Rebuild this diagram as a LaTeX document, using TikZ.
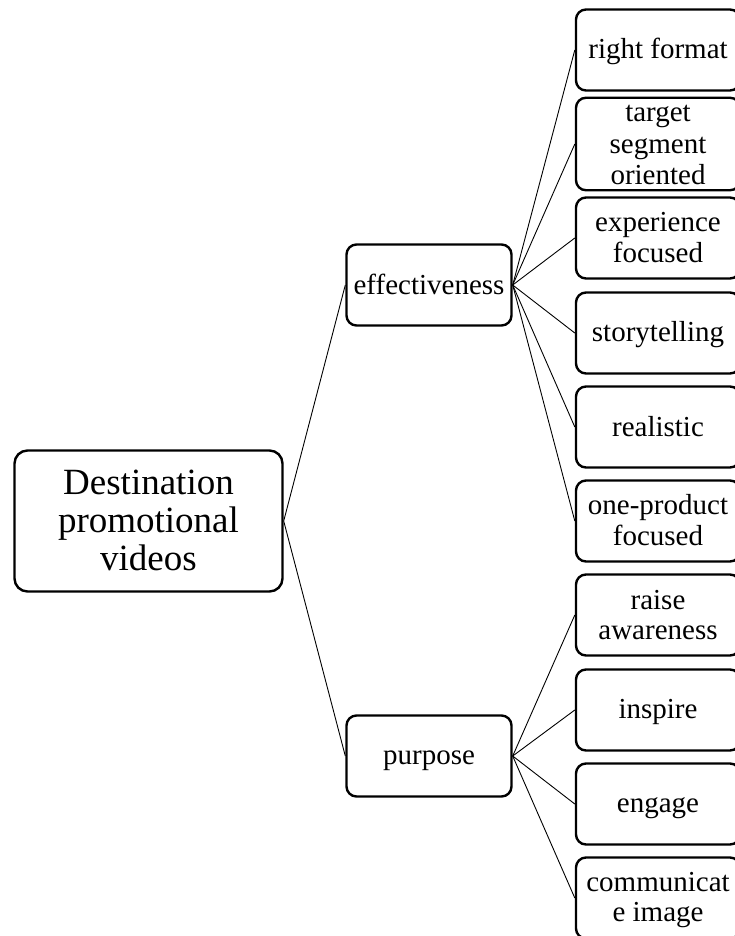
\documentclass[tikz,border=0pt]{standalone}
\usepackage{fontspec}
\setmainfont{Liberation Serif}
% fixed line boxes: leaf/branch text 24pt + 6pt, root text 30pt + 8pt
\newcommand\ls{\rule[-6pt]{0pt}{30pt}}
\newcommand\rs{\rule[-8pt]{0pt}{38pt}}
\tikzset{
  box/.style={draw=black, line width=2.4pt, rounded corners=10pt, inner sep=0pt,
    align=center, fill=white},
  rootbox/.style={box, rounded corners=13pt, minimum width=268pt, minimum height=141pt,
    font=\fontsize{37}{38}\selectfont},
  midbox/.style={box, minimum width=165pt, minimum height=81pt,
    font=\fontsize{29}{30}\selectfont},
  leafbox/.style={box, minimum width=164pt, minimum height=81pt,
    font=\fontsize{29}{30}\selectfont},
  link/.style={draw=black, line width=0.9pt}
}
\begin{document}
\begin{tikzpicture}[x=1pt, y=-1pt]
\useasboundingbox (0,0) rectangle (735,936);

% root and the two branch nodes
\node[rootbox] (root) at (148.5,521) {\rs Destination\\\rs promotional\\\rs videos};
\node[midbox] (eff) at (429,285) {\ls effectiveness};
\node[midbox] (pur) at (429,756) {\ls purpose};

% leaves
\node[leafbox] (l0) at (658,50)  {\ls right format};
\node[leafbox] (l1) at (658,144) {\ls target\\\ls segment\\\ls oriented};
\node[leafbox] (l2) at (658,238) {\ls experience\\\ls focused};
\node[leafbox] (l3) at (658,333) {\ls storytelling};
\node[leafbox] (l4) at (658,427) {\ls realistic};
\node[leafbox] (l5) at (658,521) {\ls one-product\\\ls focused};
\node[leafbox] (l6) at (658,615) {\ls raise\\\ls awareness};
\node[leafbox] (l7) at (658,710) {\ls inspire};
\node[leafbox] (l8) at (658,804) {\ls engage};
\node[leafbox] (l9) at (658,898) {\ls communicat\\\ls e image};

% connectors
\draw[link] (root.east) -- (eff.west);
\draw[link] (root.east) -- (pur.west);
\foreach \i in {0,...,5} \draw[link] (eff.east) -- (l\i.west);
\foreach \i in {6,...,9} \draw[link] (pur.east) -- (l\i.west);
\end{tikzpicture}
\end{document}
